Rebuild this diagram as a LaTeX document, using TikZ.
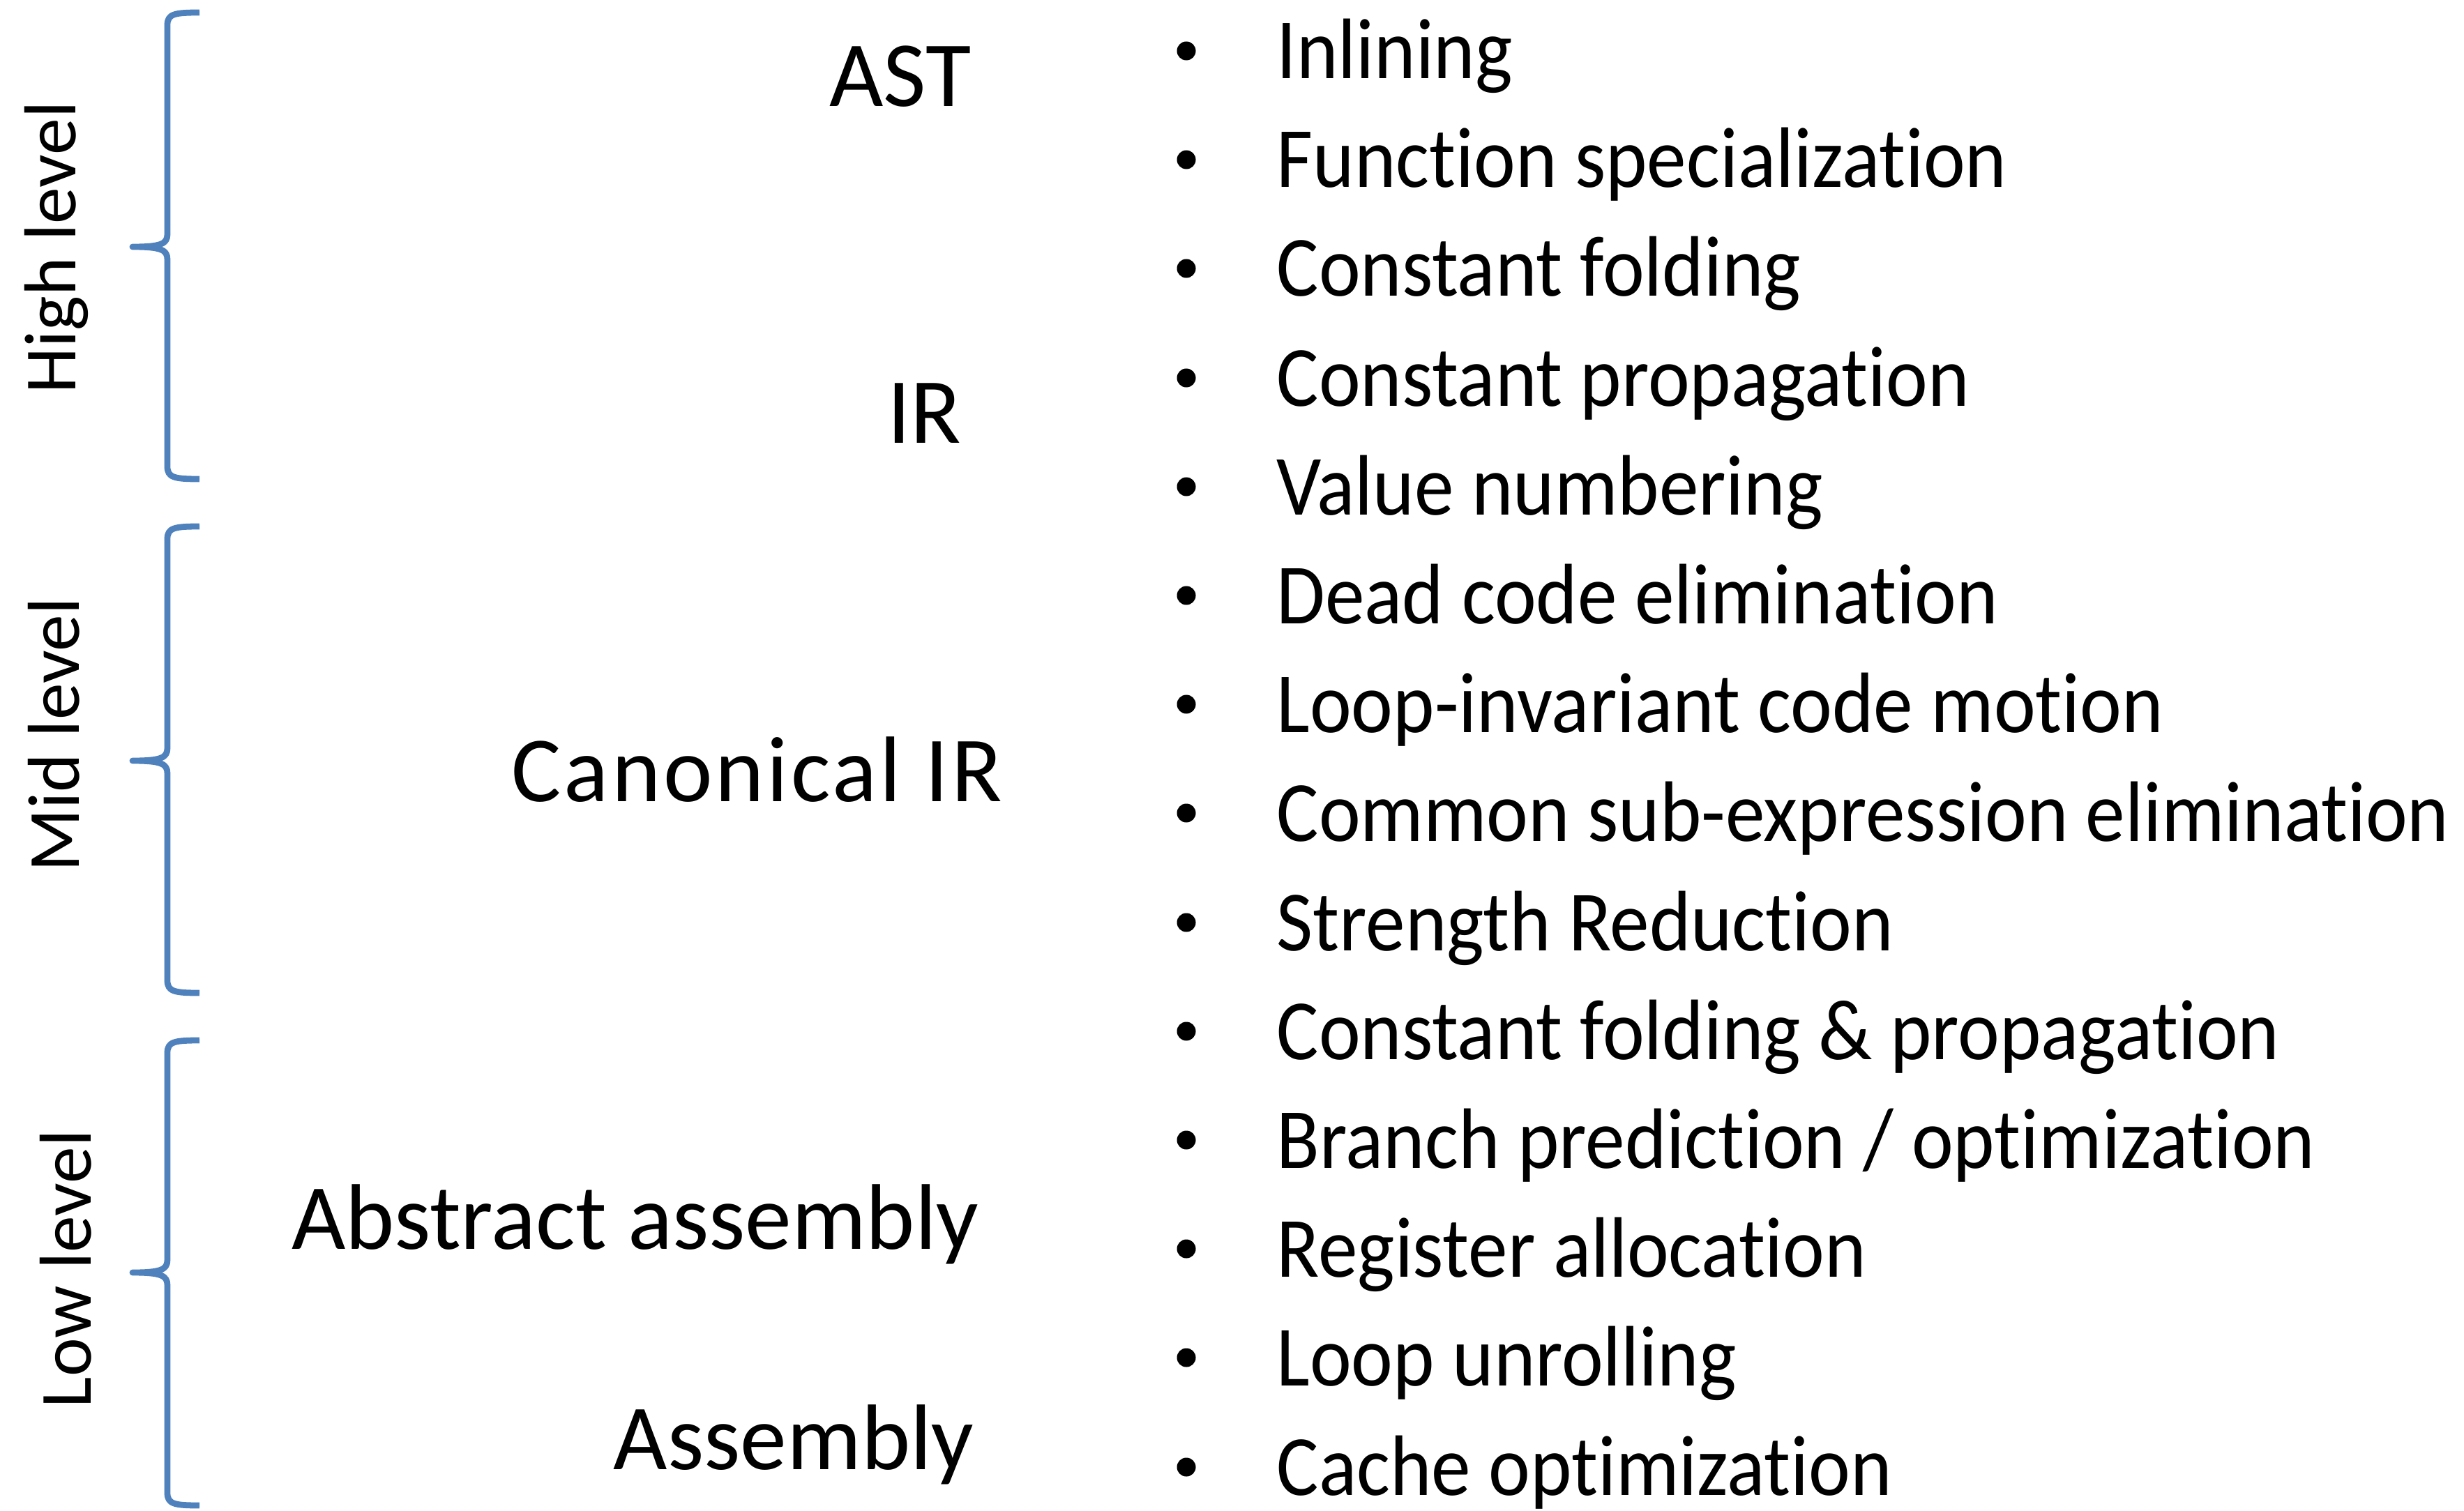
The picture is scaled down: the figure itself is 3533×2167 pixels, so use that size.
\documentclass[tikz,border=0pt]{standalone}
\usepackage{fontspec}
\setmainfont{Carlito}[Ligatures=NoCommon]
\newfontfamily\lista{Carlito}[FakeStretch=0.92, Ligatures=NoCommon]
\usepackage{tikz}
\definecolor{azul}{RGB}{79,129,189}

\tikzset{
  llave/.style={draw=azul, line width=2.5pt, line join=round},
  nivel/.style={rotate=90, anchor=base, inner sep=0, font=\fontsize{30}{35}\selectfont},
  etapa/.style={anchor=base east, inner sep=0, font=\fontsize{38}{45}\selectfont},
  punto/.style={circle, fill=black, inner sep=0, minimum size=0.27cm},
  item/.style={anchor=base west, inner sep=0, font=\lista\fontsize{35}{42}\selectfont}
}

\begin{document}
\begin{tikzpicture}[x=0.01cm, y=-0.01cm]
    \useasboundingbox (0,0) rectangle (3533,2167);

    %Llaves de los tres niveles
    \draw[llave] (286,18) .. controls (250,18) and (240,20) .. (240,36) -- (240,336)
        .. controls (240,350) and (230,354) .. (190,354)
        .. controls (230,354) and (240,358) .. (240,372) -- (240,669)
        .. controls (240,685) and (250,687) .. (286,687); %alto
    \draw[llave] (286,755) .. controls (250,755) and (240,757) .. (240,773) -- (240,1073)
        .. controls (240,1087) and (230,1091) .. (190,1091)
        .. controls (230,1091) and (240,1095) .. (240,1109) -- (240,1406)
        .. controls (240,1422) and (250,1424) .. (286,1424); %medio
    \draw[llave] (286,1492) .. controls (250,1492) and (240,1494) .. (240,1510) -- (240,1807)
        .. controls (240,1821) and (230,1825) .. (190,1825)
        .. controls (230,1825) and (240,1829) .. (240,1843) -- (240,2141)
        .. controls (240,2157) and (250,2159) .. (286,2159); %bajo

    %Nombre de cada nivel
    \node[nivel] (alto) at (108,355) {High level};
    \node[nivel] (medio) at (113,1054) {Mid level};
    \node[nivel] (bajo) at (130,1820) {Low level};

    %Representaciones intermedias
    \node[etapa] (ast) at (1393,153) {AST};
    \node[etapa] (ir) at (1379,635) {IR};
    \node[etapa] (canon) at (1438,1149) {\addfontfeature{LetterSpace=3}Canonical IR};
    \node[etapa] (abs) at (1404,1791) {Abstract assembly};
    \node[etapa] (asm) at (1397,2107) {Assembly};

    %Lista de optimizaciones
    \node[punto] (p1) at (1701,73) {};
    \node[item] (o1) at (1830,113) {Inlining};
    \node[punto] (p2) at (1701,229) {};
    \node[item] (o2) at (1830,269) {Function specialization};
    \node[punto] (p3) at (1701,385) {};
    \node[item] (o3) at (1830,425) {Constant folding};
    \node[punto] (p4) at (1701,542) {};
    \node[item] (o4) at (1830,582) {Constant propagation};
    \node[punto] (p5) at (1701,698) {};
    \node[item] (o5) at (1830,738) {Value numbering};
    \node[punto] (p6) at (1701,854) {};
    \node[item] (o6) at (1830,894) {Dead code elimination};
    \node[punto] (p7) at (1701,1010) {};
    \node[item] (o7) at (1830,1050) {Loop-invariant code motion};
    \node[punto] (p8) at (1701,1166) {};
    \node[item] (o8) at (1830,1206) {Common sub-expression elimination};
    \node[punto] (p9) at (1701,1323) {};
    \node[item] (o9) at (1830,1363) {Strength Reduction};
    \node[punto] (p10) at (1701,1479) {};
    \node[item] (o10) at (1830,1519) {Constant folding \& propagation};
    \node[punto] (p11) at (1701,1635) {};
    \node[item] (o11) at (1830,1675) {Branch prediction / optimization};
    \node[punto] (p12) at (1701,1791) {};
    \node[item] (o12) at (1830,1831) {Register allocation};
    \node[punto] (p13) at (1701,1947) {};
    \node[item] (o13) at (1830,1987) {Loop unrolling};
    \node[punto] (p14) at (1701,2104) {};
    \node[item] (o14) at (1830,2144) {Cache optimization};
\end{tikzpicture}
\end{document}
